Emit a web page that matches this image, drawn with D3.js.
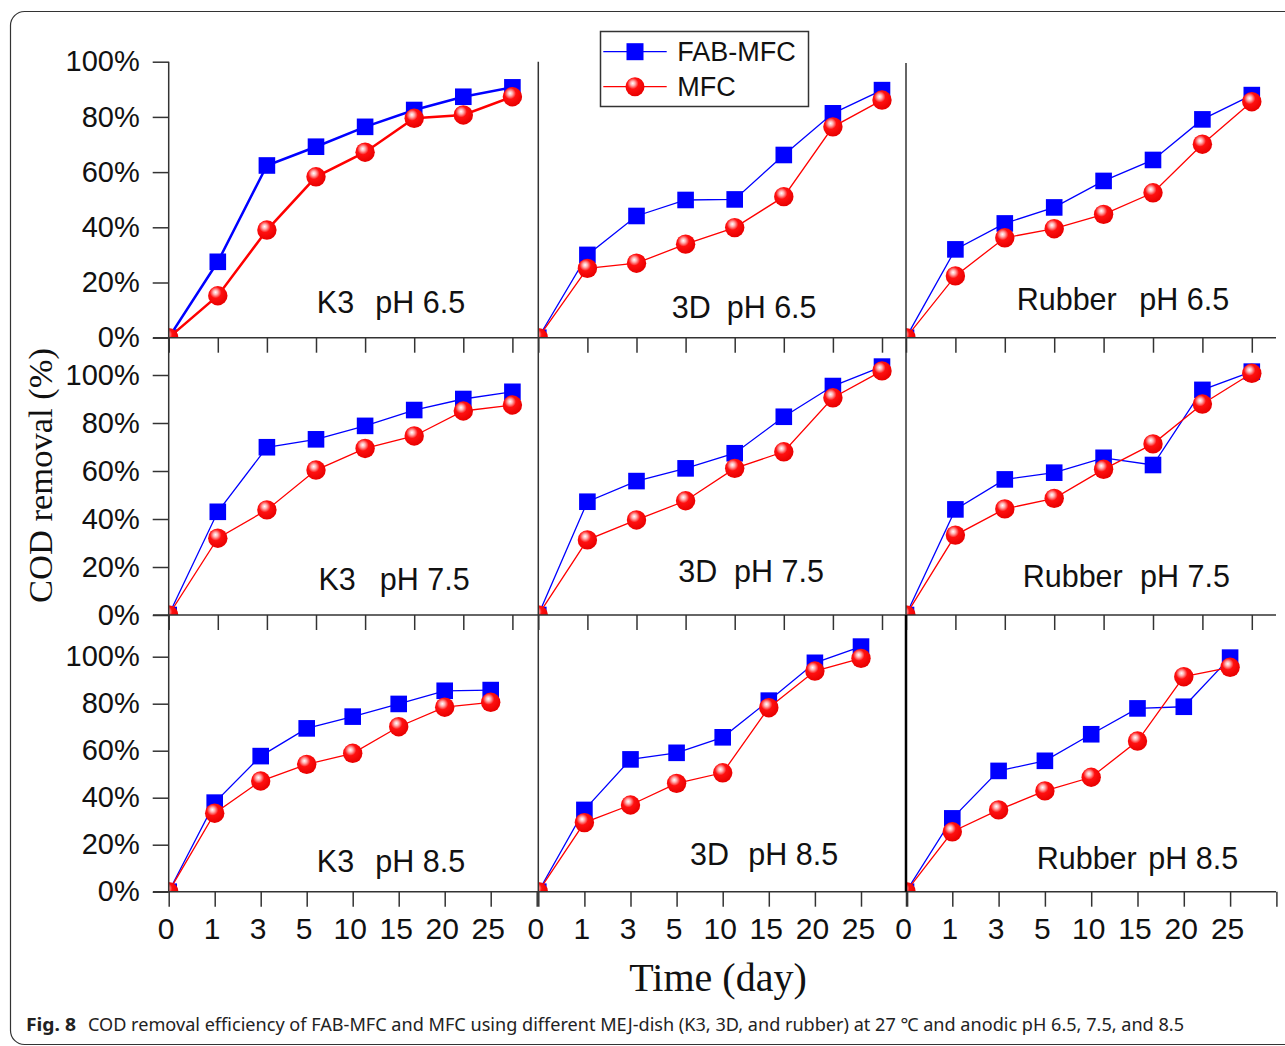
<!DOCTYPE html>
<html><head><meta charset="utf-8">
<script src="https://cdn.jsdelivr.net/npm/d3@7"></script>
<style>
html,body{margin:0;padding:0;background:#fff;}
svg{display:block;}
</style></head>
<body>
<script>
// ---------- data ----------
const days = ["0","1","3","5","10","15","20","25"];
const media = ["K3","3D","Rubber"];
const phValues = ["6.5","7.5","8.5"];
const yTickValues = [0,20,40,60,80,100];
const seriesNames = ["FAB-MFC","MFC"];

const fabK3_65  = [0, 27.5, 62.4, 69.2, 76.4, 82.5, 87.3, 90.7];
const mfcK3_65  = [0, 15.2, 39.0, 58.3, 67.2, 79.5, 80.7, 87.3];
const fab3D_65  = [0, 30.0, 44.1, 49.9, 50.1, 66.2, 81.3, 89.7];
const mfc3D_65  = [0, 25.1, 27.0, 33.9, 39.9, 51.1, 76.4, 86.1];
const fabRb_65  = [0, 32.0, 41.4, 47.2, 56.8, 64.4, 79.1, 87.9];
const mfcRb_65  = [0, 22.4, 36.2, 39.5, 44.7, 52.5, 70.1, 85.5];

const fabK3_75  = [0, 43.0, 69.9, 73.2, 78.8, 85.4, 90.0, 93.0];
const mfcK3_75  = [0, 32.0, 43.8, 60.4, 69.4, 74.6, 85.0, 87.5];
const fab3D_75  = [0, 47.2, 55.8, 61.1, 67.4, 82.6, 95.4, 103.5];
const mfc3D_75  = [0, 31.3, 39.6, 47.6, 61.1, 68.0, 90.5, 101.7];
const fabRb_75  = [0, 44.0, 56.5, 59.3, 65.5, 62.5, 93.8, 101.4];
const mfcRb_75  = [0, 33.3, 44.2, 48.6, 60.7, 71.3, 87.9, 100.7];

const fabK3_85  = [0, 37.9, 57.7, 69.5, 74.5, 79.9, 85.5, 85.8];
const mfcK3_85  = [0, 33.4, 47.1, 54.2, 58.9, 70.2, 78.5, 80.6];
const fab3D_85  = [0, 34.8, 56.3, 59.1, 65.7, 81.3, 97.4, 104.3];
const mfc3D_85  = [0, 29.4, 36.9, 46.1, 50.6, 78.3, 93.9, 99.3];
const fabRb_85  = [0, 31.2, 51.4, 55.7, 67.0, 78.0, 78.7, 99.6];
const mfcRb_85  = [0, 25.5, 34.8, 42.9, 48.7, 64.1, 91.5, 95.5];

const fabGrid = [[fabK3_65, fab3D_65, fabRb_65],[fabK3_75, fab3D_75, fabRb_75],[fabK3_85, fab3D_85, fabRb_85]];
const mfcGrid = [[mfcK3_65, mfc3D_65, mfcRb_65],[mfcK3_75, mfc3D_75, mfcRb_75],[mfcK3_85, mfc3D_85, mfcRb_85]];

// ---------- layout ----------
const W = 1285, H = 1046;
const colLeft = [168.7, 538.3, 906];
const rightEdge = 1276;
const rows = [
  {y0: 337.7, y100: 61.7, top: 0,     steps: [49.1, 49.1, 49.4], extraTick: false},
  {y0: 615,   y100: 375,  top: 337.7, steps: [49.1, 49.1, 49.4], extraTick: false},
  {y0: 891.7, y100: 656.7,top: 615,   steps: [46.0, 46.1, 46.3], extraTick: true}
];
// label positions [row][col]: x of medium, x of pH, baseline
const labelPos = [
  [[316.8, 375.3, 313], [671.7, 726.7, 318], [1016.7, 1139.3, 310]],
  [[318.5, 379.8, 590], [678.3, 734.0, 581.7], [1022.7, 1140.0, 586.7]],
  [[316.8, 375.3, 871.7], [690.0, 748.3, 865], [1036.7, 1148.3, 869.3]]
];
const BLUE = "#0000ff", RED = "#ff0000", AX = "#333";

const svg = d3.select("body").append("svg").attr("width", W).attr("height", H)
  .style("font-family", "'Liberation Sans', Arial, sans-serif");

const defs = svg.append("defs");
const grad = defs.append("radialGradient").attr("id","sphere")
  .attr("cx","40%").attr("cy","35%").attr("r","65%").attr("fx","38%").attr("fy","32%");
grad.append("stop").attr("offset","0%").attr("stop-color","#ffffff");
grad.append("stop").attr("offset","18%").attr("stop-color","#ffb5b5");
grad.append("stop").attr("offset","45%").attr("stop-color","#ff1010");
grad.append("stop").attr("offset","100%").attr("stop-color","#e80000");

// frame
svg.append("rect").attr("x",10.5).attr("y",11.5).attr("width",1300).attr("height",1033)
  .attr("rx",14).attr("fill","none").attr("stroke","#333").attr("stroke-width",1.2);

// panels
rows.forEach((row, r) => {
  const y = d3.scaleLinear().domain([0,100]).range([row.y0, row.y100]);
  colLeft.forEach((L, c) => {
    const R = c < 2 ? colLeft[c+1] : rightEdge;
    const step = row.steps[c];
    const x = d3.scaleLinear().domain([0, 7]).range([L, L + 7*step]);
    const g = svg.append("g");
    const clipId = `clip${r}${c}`;
    defs.append("clipPath").attr("id", clipId).append("rect")
      .attr("x", L).attr("y", row.top).attr("width", R - L).attr("height", row.y0 - row.top);

    // bottom ticks
    const nT = row.extraTick ? 9 : 8;
    const xa = d3.axisBottom(x).tickValues(d3.range(nT)).tickSize(15).tickPadding(11)
      .tickFormat(i => (r === 2 && i < days.length) ? days[i] : "");
    const xg = g.append("g").attr("transform", `translate(0,${row.y0})`).call(xa);
    xg.select(".domain").remove();
    xg.selectAll(".tick line").attr("stroke", AX).attr("stroke-width", 1.5);
    xg.selectAll(".tick text").attr("font-size", 30).attr("fill", "#111")
      .attr("font-family","'Liberation Sans', Arial, sans-serif").attr("dx", -3);

    // y axis ticks (only first column)
    if (c === 0) {
      const ya = d3.axisLeft(y).tickValues(yTickValues).tickSize(16).tickPadding(13)
        .tickFormat(d => d + "%");
      const yg = g.append("g").attr("transform", `translate(${L},0)`).call(ya);
      yg.select(".domain").remove();
      yg.selectAll(".tick line").attr("stroke", AX).attr("stroke-width", 1.5);
      yg.selectAll(".tick text").attr("font-size", 29).attr("fill", "#111")
        .attr("font-family","'Liberation Sans', Arial, sans-serif");
    }

    // series
    const lw = (r === 0 && c === 0) ? 2.5 : 1.3;
    const line = d3.line().x((d,i) => x(i)).y(d => y(d));
    const pg = g.append("g").attr("clip-path", `url(#${clipId})`);
    const fab = fabGrid[r][c], mfc = mfcGrid[r][c];
    pg.append("path").datum(fab).attr("d", line).attr("fill","none").attr("stroke",BLUE).attr("stroke-width",lw);
    pg.selectAll(".sq").data(fab).join("rect").attr("class","sq")
      .attr("x",(d,i)=>x(i)-8.3).attr("y",d=>y(d)-8.3).attr("width",16.6).attr("height",16.6).attr("fill",BLUE);
    pg.append("path").datum(mfc).attr("d", line).attr("fill","none").attr("stroke",RED).attr("stroke-width",lw);
    pg.selectAll(".ci").data(mfc).join("circle").attr("class","ci")
      .attr("cx",(d,i)=>x(i)).attr("cy",d=>y(d)).attr("r",9.7).attr("fill","url(#sphere)");

    // panel label
    const lp = labelPos[r][c];
    g.append("text").attr("x", lp[0]).attr("y", lp[2]).attr("font-size", 30.5).attr("fill","#111").text(media[c]);
    g.append("text").attr("x", lp[1]).attr("y", lp[2]).attr("font-size", 30.5).attr("fill","#111").text("pH " + phValues[r]);
  });
  // horizontal axis line
  svg.append("line").attr("x1", 153).attr("x2", rightEdge).attr("y1", row.y0).attr("y2", row.y0)
    .attr("stroke", AX).attr("stroke-width", 1.5);
});

// vertical axis lines
colLeft.forEach((L, c) => {
  svg.append("line").attr("x1", L).attr("x2", L).attr("y1", c === 2 ? 63 : 61.7).attr("y2", rows[2].y0)
    .attr("stroke", AX).attr("stroke-width", 1.5);
});
svg.append("line").attr("x1", 906).attr("x2", 906).attr("y1", 615).attr("y2", rows[2].y0)
  .attr("stroke", "#000").attr("stroke-width", 2.5);

// legend
const lg = svg.append("g");
lg.append("rect").attr("x",600.5).attr("y",31.5).attr("width",208).attr("height",75)
  .attr("fill","#fff").attr("stroke","#333").attr("stroke-width",1.5);
const legY = [51.7, 86.7];
seriesNames.forEach((name, i) => {
  const col = i === 0 ? BLUE : RED;
  lg.append("line").attr("x1",603.3).attr("x2",666.7).attr("y1",legY[i]).attr("y2",legY[i])
    .attr("stroke",col).attr("stroke-width",1.3);
  if (i === 0) lg.append("rect").attr("x",635-8.5).attr("y",legY[i]-8.5).attr("width",17).attr("height",17).attr("fill",BLUE);
  else lg.append("circle").attr("cx",635).attr("cy",legY[i]).attr("r",9.5).attr("fill","url(#sphere)");
  lg.append("text").attr("x",677.3).attr("y",legY[i]+9.7).attr("font-size",27).attr("fill","#111").text(name);
});

// axis titles
svg.append("text").attr("transform","translate(52,475.5) rotate(-90)").attr("text-anchor","middle")
  .attr("font-family","'Liberation Serif','Times New Roman',serif").attr("font-size",34.5).attr("fill","#111")
  .text("COD removal (%)");
svg.append("text").attr("x",718).attr("y",991).attr("text-anchor","middle")
  .attr("font-family","'Liberation Serif','Times New Roman',serif").attr("font-size",40).attr("fill","#111")
  .text("Time (day)");

// caption
svg.append("text").attr("x",26).attr("y",1031).attr("font-family","'Noto Sans','Open Sans',sans-serif")
  .attr("font-size",18).attr("font-weight","bold").attr("fill","#222")
  .attr("textLength",50).attr("lengthAdjust","spacingAndGlyphs").text("Fig. 8");
svg.append("text").attr("x",88).attr("y",1031).attr("font-family","'Noto Sans','Open Sans',sans-serif")
  .attr("font-size",18).attr("fill","#222")
  .attr("textLength",1096).attr("lengthAdjust","spacingAndGlyphs")
  .text("COD removal efficiency of FAB-MFC and MFC using different MEJ-dish (K3, 3D, and rubber) at 27 \u2103 and anodic pH 6.5, 7.5, and 8.5");
</script>
</body></html>
